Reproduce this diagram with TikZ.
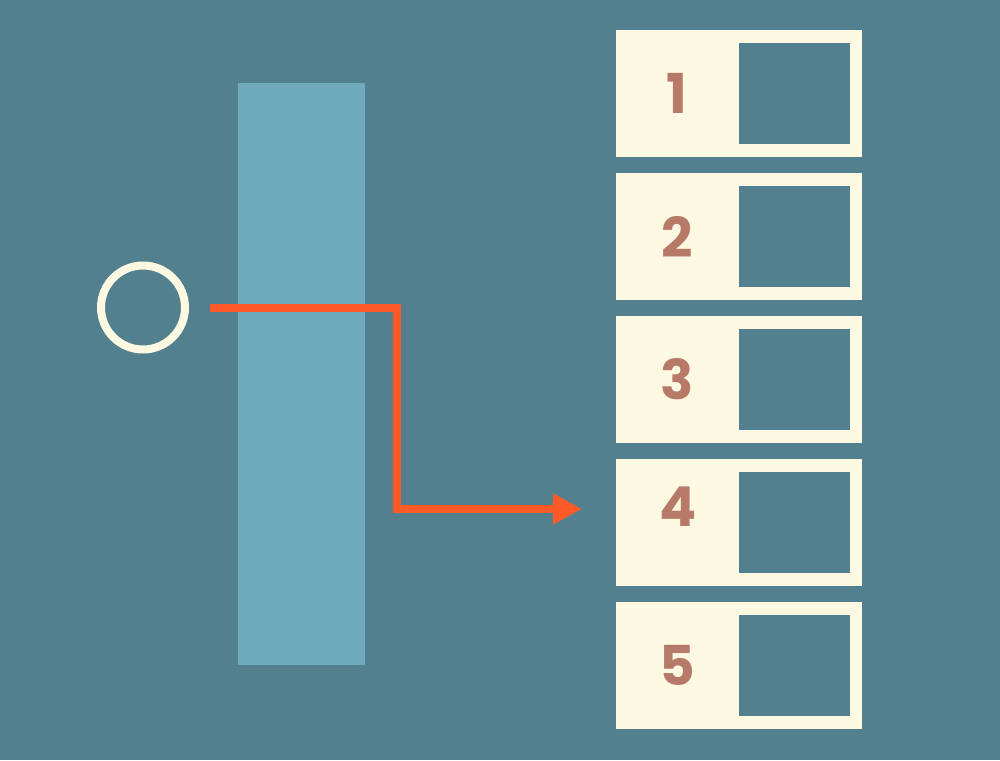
\documentclass[tikz,border=0pt]{standalone}
\usepackage{fontspec}
\newfontfamily\slotfont{Poppins}
\usetikzlibrary{arrows.meta,%
                shapes,positioning}
\usetikzlibrary{calc}

\definecolor{sea}{HTML}{52808E}
\definecolor{lane}{HTML}{6FAABD}
\definecolor{cream}{HTML}{FDF8E1}
\definecolor{clay}{HTML}{B77A69}
\definecolor{flame}{HTML}{FF5A28}

\begin{document}
\begin{tikzpicture}[x=1pt, y=-1pt]
  \useasboundingbox (0,0) rectangle (1000,760);
  \tikzset{SlotStyle/.style = {fill=cream, shape=rectangle, inner sep=0pt, outer sep=0pt, minimum width=246pt, minimum height=127pt}}
  \tikzset{HoleStyle/.style = {fill=sea, shape=rectangle, inner sep=0pt, outer sep=0pt, minimum width=111pt, minimum height=101pt}}
  \tikzset{NumStyle/.style = {text=clay, inner sep=0pt, font=\slotfont\bfseries\fontsize{55}{55}\selectfont}}
  \tikzset{EdgeStyle/.style   = {flame, line width=8pt, -{Triangle[length=29pt, width=29pt]}, line join=miter}}
  \fill[sea] (0,0) rectangle (1000,760);

  \node(lane)[fill=lane, inner sep=0pt, minimum width=127pt, minimum height=582pt] at (301.5,374) {};
  \node(ring)[draw=cream, line width=8pt, shape=circle, inner sep=0pt, minimum size=84pt] at (143,307.5) {};

  \node(s1)[SlotStyle] at (739,93.5) {};
  \node(s2)[SlotStyle, below=16pt of s1] {};
  \node(s3)[SlotStyle, below=16pt of s2] {};
  \node(s4)[SlotStyle, below=16pt of s3] {};
  \node(s5)[SlotStyle, below=16pt of s4] {};

  \node(h1)[HoleStyle, left=12pt of s1.east] {};
  \node(h2)[HoleStyle, left=12pt of s2.east] {};
  \node(h3)[HoleStyle, left=12pt of s3.east] {};
  \node(h4)[HoleStyle, left=12pt of s4.east] {};
  \node(h5)[HoleStyle, left=12pt of s5.east] {};

  \node(n1)[NumStyle] at ([xshift=61pt]s1.west) {1};
  \node(n2)[NumStyle] at ([xshift=61pt]s2.west) {2};
  \node(n3)[NumStyle] at ([xshift=61pt]s3.west) {3};
  \node(n4)[NumStyle] at ([xshift=62pt, yshift=16pt]s4.west) {4};
  \node(n5)[NumStyle] at ([xshift=61pt]s5.west) {5};

  \coordinate(start) at (210,308);
  \coordinate(bend) at (397,308);
  \coordinate(tip) at (582,509);
     \draw[EdgeStyle](start) -- (bend) |- (tip);

 \end{tikzpicture}
\end{document}
